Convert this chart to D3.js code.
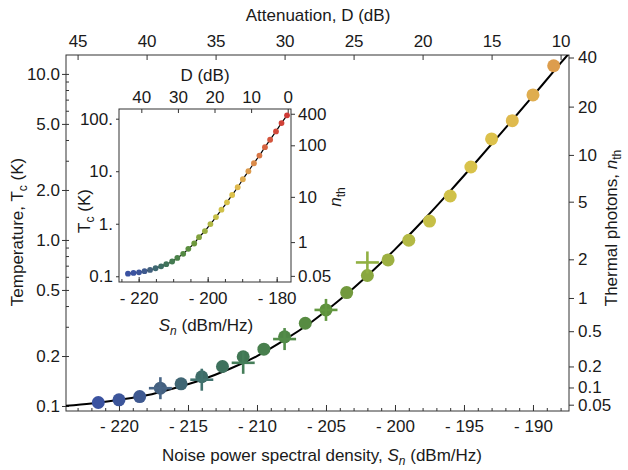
<!DOCTYPE html>
<html>
<head>
<meta charset="utf-8">
<script src="https://cdn.jsdelivr.net/npm/d3@7"></script>
<style>
body { margin:0; background:#fff; }
svg text { font-family: "Liberation Sans", Arial, Helvetica, sans-serif; fill:#1a1a1a; font-size:17px; }
.frame { fill:none; stroke:#333; stroke-width:1; }
.axis path { display:none; }
.axis line { stroke:#333; stroke-width:1; }
.axis text { font-size:17px; fill:#1a1a1a; }
</style>
</head>
<body>
<svg width="628" height="470"></svg>
<script>
(function() {

	// main panel: measured points (S_n in dBm/Hz, T_c in K)
	var mainSn = [-221.5,-220,-218.5,-217,-215.5,-214,-212.5,-211,-209.5,-208,-206.5,-205,-203.5,-202,-200.5,-199,-197.5,-196,-194.5,-193,-191.5,-190,-188.5]
	var mainT = [0.105,0.109,0.114,0.128,0.136,0.150,0.173,0.198,0.220,0.261,0.315,0.379,0.482,0.611,0.758,0.996,1.30,1.84,2.75,4.06,5.23,7.47,11.2]

	// crosses (second data set)
	var crossSn = [-217,-214,-211,-208,-205,-202]
	var crossT = [0.128,0.144,0.182,0.253,0.379,0.732]

	// black model curve
	var fitSn = [-224,-222,-220,-218,-216,-214,-212,-210,-208,-206,-204,-202,-200,-198,-196,-194,-192,-190,-188,-187]
	var fitT = [0.100,0.1035,0.109,0.116,0.128,0.144,0.167,0.200,0.250,0.323,0.436,0.609,0.878,1.30,1.97,3.03,4.71,7.37,11.6,14.5]

	// inset points
	var insetSn = [-223.1,-221.5,-219.9,-218.3,-216.7,-215.1,-213.5,-212.0,-210.3,-208.8,-207.1,-205.6,-203.9,-202.5,-200.8,-199.2,-197.6,-196.0,-194.4,-192.9,-191.3,-189.8,-188.2,-186.6,-185.0,-183.4,-181.9,-180.2,-178.6,-177.0]
	var insetT = [0.112,0.116,0.119,0.125,0.132,0.142,0.155,0.170,0.191,0.224,0.267,0.333,0.421,0.556,0.724,0.985,1.34,1.85,2.56,3.53,4.95,7.03,10.0,14.2,19.9,28.7,39.7,57.3,82.7,116]

	// tick values / labels
	var snTicks = [-220,-215,-210,-205,-200,-195,-190]
	var dTicks = [45,40,35,30,25,20,15,10]
	var tTicks = [0.1,0.2,0.5,1,2,5,10]
	var tLabels = ['0.1','0.2','0.5','1.0','2.0','5.0','10.0']
	var nTicks = [40,20,10,5,2,1,0.5,0.2,0.1,0.05]
	var insetTTicks = [0.1,1,10,100]
	var insetTLabels = ['0.1','1.','10.','100.']
	var insetNTicks = [400,100,10,1,0.05]
	var insetSnTicks = [-220,-200,-180]
	var insetDTicks = [40,30,20,10,0]

	// colour ramp along S_n
	var colorSn = [-222,-219,-217,-215,-213,-211,-208,-205,-203.5,-202,-200,-198,-195,-193,-191,-189,-187,-184,-181,-177]
	var colorHex = ['#3a52a2','#3d5796','#44607f','#3e6870','#3d6f60','#417754','#4f8645','#5e903d','#72993d','#89a73f','#a3b342','#c3be46','#d6c249','#dcc14b','#e0b84f','#dea24e','#da8f4a','#d86a42','#d24c3b','#ce3b36']

	var T0 = 0.31 // hf/k (K), links photon number to temperature
	function nToT(n) { return T0 / Math.log(1 + 1/n) }

	var svg = d3.select('svg')
	var main = { left:66, right:569, top:55, bottom:411 }
	var ins = { left:119, right:291, top:109, bottom:282 }
	var scales = {}

	function fmtNeg(d) { return d < 0 ? '- ' + Math.abs(d) : d }

	function setupScales() {
		scales.x = d3.scaleLinear().domain([-223.84,-187.39]).range([main.left, main.right])
		scales.d = d3.scaleLinear().domain([45.84,9.39]).range([main.left, main.right])
		scales.y = d3.scaleLog().domain([0.0933,13.0]).range([main.bottom, main.top])
		scales.color = d3.scaleLinear().domain(colorSn).range(colorHex).clamp(true)
		scales.ix = d3.scaleLinear().domain([-225.7,-175.85]).range([ins.left, ins.right])
		scales.id = d3.scaleLinear().domain([46.1,-0.9]).range([ins.left, ins.right])
		scales.iy = d3.scaleLog().domain([0.0778,153]).range([ins.bottom, ins.top])
	}

	function richText(g, x, y, parts, rotate) {
		var t = g.append('text')
			.attr('text-anchor','middle')
			.attr('transform','translate(' + x + ',' + y + ')' + (rotate ? 'rotate(-90)' : ''))
		parts.forEach(function(p) {
			var s = t.append('tspan').text(p.t)
			if (p.it) s.style('font-style','italic')
			if (p.sub) s.attr('dy', 4).style('font-size','12px')
			if (p.up) s.attr('dy', -4)
		})
		return t
	}

	function drawMain() {
		var g = svg.append('g').attr('class','main')

		// bottom axis S_n
		g.append('g').attr('class','axis').attr('transform','translate(0,' + main.bottom + ')')
			.call(d3.axisBottom(scales.x).tickValues(snTicks).tickSizeInner(-6).tickSizeOuter(0).tickPadding(9).tickFormat(fmtNeg))
		g.append('g').attr('class','axis').attr('transform','translate(0,' + main.bottom + ')')
			.call(d3.axisBottom(scales.x).tickValues(d3.range(-223,-187,1)).tickSizeInner(-3).tickSizeOuter(0).tickFormat(''))

		// top axis D
		g.append('g').attr('class','axis').attr('transform','translate(0,' + main.top + ')')
			.call(d3.axisTop(scales.d).tickValues(dTicks).tickSizeInner(-5).tickSizeOuter(0).tickPadding(8))

		// left axis T
		g.append('g').attr('class','axis').attr('transform','translate(' + main.left + ',0)')
			.call(d3.axisLeft(scales.y).tickValues(tTicks).tickSizeInner(4).tickSizeOuter(0).tickPadding(2)
				.tickFormat(function(d,i){ return tLabels[i] }))
		var minorT = []
		;[0.1,1,10].forEach(function(dec){ for (var k=1;k<10;k++) { var v = dec*k; if (v < 13) minorT.push(v) } })
		g.append('g').attr('class','axis').attr('transform','translate(' + main.left + ',0)')
			.call(d3.axisRight(scales.y).tickValues(minorT).tickSizeInner(3).tickSizeOuter(0).tickFormat(''))

		// right axis n_th
		g.append('g').attr('class','axis').attr('transform','translate(' + main.right + ',0)')
			.call(d3.axisRight(scales.y).tickValues(nTicks.map(nToT)).tickSizeInner(5).tickSizeOuter(0).tickPadding(4)
				.tickFormat(function(d,i){ return nTicks[i] }))

		g.append('rect').attr('class','frame')
			.attr('x', main.left).attr('y', main.top)
			.attr('width', main.right - main.left).attr('height', main.bottom - main.top)

		svg.append('clipPath').attr('id','clipMain').append('rect')
			.attr('x', main.left).attr('y', main.top)
			.attr('width', main.right - main.left).attr('height', main.bottom - main.top)

		var line = d3.line()
			.x(function(d){ return scales.x(d[0]) })
			.y(function(d){ return scales.y(d[1]) })
			.curve(d3.curveCatmullRom)

		g.append('path')
			.datum(d3.zip(fitSn, fitT))
			.attr('clip-path','url(#clipMain)')
			.attr('d', line)
			.attr('fill','none').attr('stroke','#000').attr('stroke-width',2)

		g.append('g').selectAll('circle')
			.data(d3.zip(mainSn, mainT))
			.enter().append('circle')
			.attr('cx', function(d){ return scales.x(d[0]) })
			.attr('cy', function(d){ return scales.y(d[1]) })
			.attr('r', 6.5)
			.attr('fill', function(d){ return scales.color(d[0]) })

		var crosses = g.append('g').selectAll('g')
			.data(d3.zip(crossSn, crossT))
			.enter().append('g')
			.attr('transform', function(d){ return 'translate(' + scales.x(d[0]) + ',' + scales.y(d[1]) + ')' })
			.attr('stroke', function(d){ return d3.color(scales.color(d[0])).brighter(0.15) })
			.attr('stroke-width', 2.6)
		crosses.append('line').attr('x1',-11.5).attr('x2',11.5)
		crosses.append('line').attr('y1',-11).attr('y2',11)

		// titles
		richText(svg, 318, 21, [{t:'Attenuation, D (dB)'}])
		richText(svg, 322, 461, [{t:'Noise power spectral density, '},{t:'S',it:true},{t:'n',it:true,sub:true},{t:' (dBm/Hz)',up:true}])
		richText(svg, 23, 232, [{t:'Temperature, T'},{t:'c',sub:true},{t:' (K)',up:true}], true)
		richText(svg, 617, 228, [{t:'Thermal photons, '},{t:'n',it:true},{t:'th',sub:true}], true)
	}

	function drawInset() {
		var g = svg.append('g').attr('class','inset')

		g.append('rect').attr('x', ins.left).attr('y', ins.top)
			.attr('width', ins.right - ins.left).attr('height', ins.bottom - ins.top)
			.attr('fill','#fff')

		g.append('g').attr('class','axis').attr('transform','translate(0,' + ins.bottom + ')')
			.call(d3.axisBottom(scales.ix).tickValues(insetSnTicks).tickSizeInner(-5).tickSizeOuter(0).tickPadding(10).tickFormat(fmtNeg))
		g.append('g').attr('class','axis').attr('transform','translate(0,' + ins.bottom + ')')
			.call(d3.axisBottom(scales.ix).tickValues(d3.range(-225,-175,5)).tickSizeInner(-3).tickSizeOuter(0).tickFormat(''))

		g.append('g').attr('class','axis').attr('transform','translate(0,' + ins.top + ')')
			.call(d3.axisTop(scales.id).tickValues(insetDTicks).tickSizeInner(-4).tickSizeOuter(0).tickPadding(6))

		g.append('g').attr('class','axis').attr('transform','translate(' + ins.left + ',0)')
			.call(d3.axisLeft(scales.iy).tickValues(insetTTicks).tickSizeInner(3).tickSizeOuter(0).tickPadding(3)
				.tickFormat(function(d,i){ return insetTLabels[i] }))

		g.append('g').attr('class','axis').attr('transform','translate(' + ins.right + ',0)')
			.call(d3.axisRight(scales.iy).tickValues(insetNTicks.map(nToT)).tickSizeInner(4).tickSizeOuter(0).tickPadding(3)
				.tickFormat(function(d,i){ return insetNTicks[i] }))

		g.append('rect').attr('class','frame')
			.attr('x', ins.left).attr('y', ins.top)
			.attr('width', ins.right - ins.left).attr('height', ins.bottom - ins.top)

		var line = d3.line()
			.x(function(d){ return scales.ix(d[0]) })
			.y(function(d){ return scales.iy(d[1]) })
			.curve(d3.curveMonotoneX)

		var pts = d3.zip(insetSn, insetT)
		g.append('path').datum(pts)
			.attr('d', line)
			.attr('fill','none').attr('stroke','#000').attr('stroke-width',1.2)

		g.append('g').selectAll('circle')
			.data(pts)
			.enter().append('circle')
			.attr('cx', function(d){ return scales.ix(d[0]) })
			.attr('cy', function(d){ return scales.iy(d[1]) })
			.attr('r', 2.9)
			.attr('fill', function(d){ return scales.color(d[0]) })

		richText(svg, 205, 81, [{t:'D (dB)'}])
		richText(svg, 206, 331, [{t:'S',it:true},{t:'n',it:true,sub:true},{t:' (dBm/Hz)',up:true}])
		richText(svg, 90, 211, [{t:'T'},{t:'c',sub:true},{t:' (K)',up:true}], true)
		richText(svg, 341, 197, [{t:'n',it:true},{t:'th',sub:true}], true)
	}

	function init() {
		setupScales()
		drawMain()
		drawInset()
	}

	init()
})()
</script>
</body>
</html>
